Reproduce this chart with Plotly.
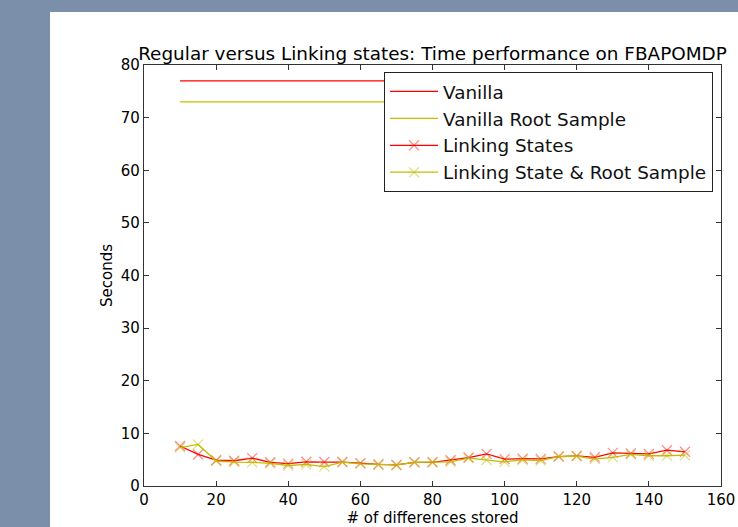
import plotly.graph_objects as go

diffs_stored = [10, 15, 20, 25, 30, 35, 40, 45, 50, 55, 60, 65, 70, 75, 80,
                85, 90, 95, 100, 105, 110, 115, 120, 125, 130, 135, 140, 145, 150]
linking_states = [7.6, 6.0, 4.9, 4.8, 5.3, 4.5, 4.25, 4.6, 4.55, 4.55, 4.35, 4.1, 4.0, 4.5, 4.5,
                  4.9, 5.4, 6.1, 5.1, 5.2, 5.15, 5.6, 5.7, 5.45, 6.3, 6.2, 6.1, 6.8, 6.5]
linking_root = [7.3, 7.9, 4.75, 4.55, 4.5, 4.3, 3.9, 4.1, 3.7, 4.55, 4.2, 4.1, 4.0, 4.5, 4.5,
                4.6, 5.3, 4.95, 4.6, 4.95, 4.85, 5.6, 5.7, 5.1, 5.45, 6.0, 5.75, 5.75, 5.85]
vanilla_seconds = 77.0
vanilla_root_seconds = 73.0

x_ticks = [0, 20, 40, 60, 80, 100, 120, 140, 160]
y_ticks = [0, 10, 20, 30, 40, 50, 60, 70, 80]

RED = "#ff0000"
YEL = "#bfbf00"
FONT = "DejaVu Sans"

x_ends = [diffs_stored[0], diffs_stored[-1]]

fig = go.Figure()
fig.add_trace(go.Scatter(x=x_ends, y=[vanilla_seconds] * 2, mode="lines",
                         line=dict(color=RED, width=1.2), name="Vanilla", legendgroup="a"))
fig.add_trace(go.Scatter(x=x_ends, y=[vanilla_root_seconds] * 2, mode="lines",
                         line=dict(color=YEL, width=1.2), name="Vanilla Root Sample", legendgroup="b"))
fig.add_trace(go.Scatter(x=diffs_stored, y=linking_states, mode="lines+markers",
                         line=dict(color=RED, width=1.3),
                         marker=dict(symbol="x-thin", size=10, color="rgba(255,0,0,0.45)",
                                     line=dict(width=1.3, color="rgba(255,0,0,0.45)")),
                         name="Linking States", legendgroup="c"))
fig.add_trace(go.Scatter(x=diffs_stored, y=linking_root, mode="lines+markers",
                         line=dict(color=YEL, width=1.3),
                         marker=dict(symbol="x-thin", size=10, color="rgba(191,191,0,0.45)",
                                     line=dict(width=1.3, color="rgba(191,191,0,0.45)")),
                         name="Linking State & Root Sample", legendgroup="d"))

W, H = 738, 527
L, R, T, B = 144, 721, 65, 486
pw, ph = R - L, B - T

fig.add_shape(type="rect", xref="paper", yref="paper",
              x0=(50 - L) / pw, x1=1.2, y0=-0.3, y1=(B - 12) / ph,
              fillcolor="white", line=dict(width=0), layer="below")

axis_common = dict(showgrid=False, zeroline=False, showline=True, linecolor="#333333",
                   linewidth=1.3, mirror="ticks", ticks="inside", ticklen=5,
                   tickcolor="#333333", tickwidth=1, automargin=False,
                   tickfont=dict(family=FONT, size=15, color="black"))

fig.update_layout(
    width=W, height=H, autosize=False,
    margin=dict(l=L, r=W - R, t=T, b=H - B),
    paper_bgcolor="#7b8fab",
    plot_bgcolor="white",
    font=dict(family=FONT, color="black"),
    title=dict(text="Regular versus Linking states: Time performance on FBAPOMDP",
               font=dict(family=FONT, size=18.4, color="black"),
               x=0.5, xanchor="center", xref="paper",
               y=1, yref="paper", yanchor="bottom", pad=dict(b=5)),
    xaxis=dict(range=[0, 160], tickvals=x_ticks,
               title=dict(text="# of differences stored", font=dict(family=FONT, size=15), standoff=5),
               **axis_common),
    yaxis=dict(range=[0, 80], tickvals=y_ticks,
               title=dict(text="Seconds", font=dict(family=FONT, size=15), standoff=4),
               **axis_common),
    legend=dict(x=(713 - L) / pw, xanchor="right", y=(B - 72) / ph, yanchor="top",
                bgcolor="white", bordercolor="#222222", borderwidth=1,
                font=dict(family=FONT, size=18.4, color="#111111"),
                tracegroupgap=0, itemwidth=48),
    showlegend=True,
)

fig.write_html("out.html", config={"displayModeBar": False},
               post_script="document.body.style.margin='0';document.body.style.overflow='hidden';")
